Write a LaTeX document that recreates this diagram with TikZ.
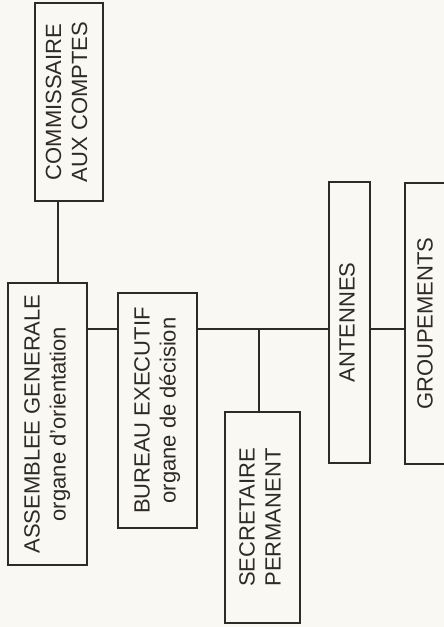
\documentclass[tikz,border=0pt]{standalone}
\usepackage{fontspec}
\setmainfont{Liberation Sans}
\usepackage{graphicx}
\definecolor{paper}{RGB}{250,248,243}
\definecolor{ink}{RGB}{45,42,40}
\newcommand{\vtext}[1]{\rotatebox{90}{\begin{tabular}{@{}c@{}}#1\end{tabular}}}

\begin{document}
\begin{tikzpicture}
        [
            x=1pt, y=-1pt,
            box/.style={rectangle, draw=ink, line width=1.3pt, inner sep=0pt, text=ink, font=\fontsize{22}{26}\selectfont},
            link/.style={draw=ink, line width=1.3pt}
        ]
        \useasboundingbox (0,0) rectangle (444,627);
        \fill[paper] (0,0) rectangle (444,627);
        % CA
        \node[box, minimum width=68pt, minimum height=198pt] (ca) at (69,102) {\vtext{COMMISSAIRE\\AUX COMPTES}};
        % AG
        \node[box, minimum width=79pt, minimum height=282pt] (ag) at (47.5,424) {\vtext{ASSEMBLEE GENERALE\\organe d'orientation}};
        % BE
        \node[box, minimum width=79pt, minimum height=235pt] (be) at (157.5,410.5) {\vtext{BUREAU EXECUTIF\\organe de décision}};
        % SP
        \node[box, minimum width=75pt, minimum height=211pt] (sp) at (262.5,517.5) {\vtext{SECRETAIRE\\PERMANENT}};
        % AN
        \node[box, minimum width=41pt, minimum height=281pt] (an) at (349.5,322.5) {\vtext{ANTENNES}};
        % GR
        \node[box, minimum width=45pt, minimum height=281pt] (gr) at (427.5,323.5) {\vtext{GROUPEMENTS}};
        % links
        \coordinate (trunk) at (0,329);
        \draw[link] ([xshift=-11pt]ca.south) -- ([xshift=-11pt]ca.south |- ag.north);
        \draw[link] (ag.east |- trunk) -- (be.west |- trunk);
        \draw[link] (be.east |- trunk) -- (an.west |- trunk);
        \draw[link] (an.east |- trunk) -- (gr.west |- trunk);
        \draw[link] ([xshift=-3.5pt]sp.north) -- ([xshift=-3.5pt]sp.north |- trunk);
    \end{tikzpicture}
\end{document}
